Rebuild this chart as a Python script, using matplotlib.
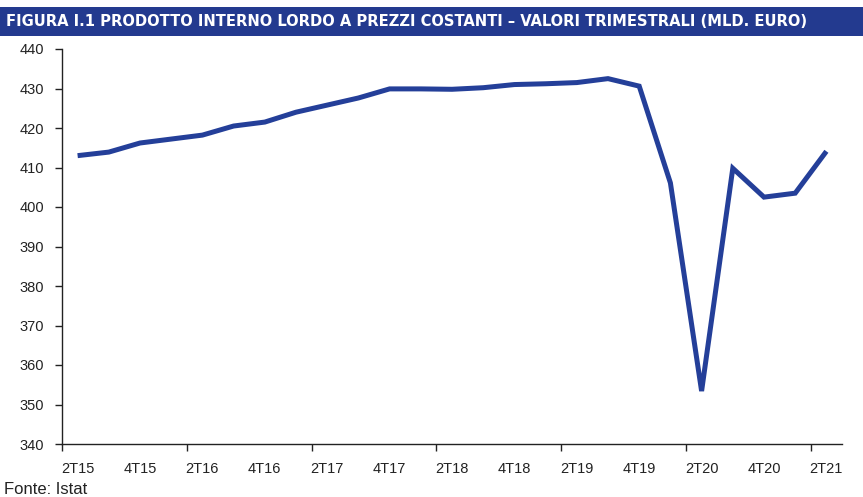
import matplotlib
matplotlib.use("Agg")
import matplotlib.pyplot as plt
from matplotlib.patches import Rectangle
from matplotlib.ticker import FixedLocator

# trimestri (2T15 - 2T21)
quarters = ['2T15', '3T15', '4T15', '1T16', '2T16', '3T16', '4T16',
            '1T17', '2T17', '3T17', '4T17', '1T18', '2T18', '3T18', '4T18',
            '1T19', '2T19', '3T19', '4T19', '1T20', '2T20', '3T20', '4T20',
            '1T21', '2T21']
# PIL a prezzi costanti, mld. euro
pil = [413.0, 413.9, 416.2, 417.2, 418.2, 420.5, 421.5,
       424.0, 425.8, 427.6, 429.9, 429.9, 429.8, 430.2, 431.0,
       431.2, 431.5, 432.5, 430.6, 406.1, 353.4, 409.8, 402.5,
       403.5, 414.1]
y_ticks = [340, 350, 360, 370, 380, 390, 400, 410, 420, 430, 440]

blu = '#233a8f'
linea = '#243f99'

fig = plt.figure(figsize=(8.63, 4.97), dpi=100)

# barra del titolo
fig.patches.append(Rectangle((0, 1 - 36 / 497), 1, 29 / 497, transform=fig.transFigure,
                             facecolor=blu, edgecolor='none', zorder=0))
fig.text(6 / 863, 1 - 21.5 / 497,
         'FIGURA I.1 PRODOTTO INTERNO LORDO A PREZZI COSTANTI \u2013 VALORI TRIMESTRALI (MLD. EURO)',
         color='white', fontsize=11.8, fontweight='bold', fontstretch='condensed',
         family='DejaVu Sans', va='center', ha='left')

ax = fig.add_axes([62 / 863, 53 / 497, 780 / 863, 395 / 497])
x = list(range(len(quarters)))
ax.plot(x, pil, color=linea, lw=3.6, solid_joinstyle='miter', solid_capstyle='butt')

ax.set_xlim(-0.5, len(quarters) - 0.5)
ax.set_ylim(340, 440)
ax.set_yticks(y_ticks)

# tacche tra le categorie, etichette ogni due trimestri
ax.xaxis.set_major_locator(FixedLocator([i - 0.5 for i in range(0, len(quarters), 4)]))
ax.xaxis.set_major_formatter(plt.NullFormatter())
ax.xaxis.set_minor_locator(FixedLocator(x[::2]))
ax.set_xticklabels(quarters[::2], minor=True)
ax.tick_params(axis='x', which='major', length=5, width=1, color='#222222')
ax.tick_params(axis='x', which='minor', length=0, pad=13, labelsize=10.5, labelcolor='#222222')
ax.tick_params(axis='y', length=5, width=1, color='#222222', labelsize=10.5, labelcolor='#222222', pad=8)

for s in ['top', 'right']:
    ax.spines[s].set_visible(False)
for s in ['left', 'bottom']:
    ax.spines[s].set_color('#222222')
    ax.spines[s].set_linewidth(1)

for lab in ax.get_xticklabels(minor=True) + ax.get_yticklabels():
    lab.set_family('Liberation Sans')

fig.text(4 / 863, 1 - 489 / 497, 'Fonte: Istat', fontsize=12, family='Liberation Sans',
         color='#222222', va='center', ha='left')

fig.savefig('out.png', dpi=100)
